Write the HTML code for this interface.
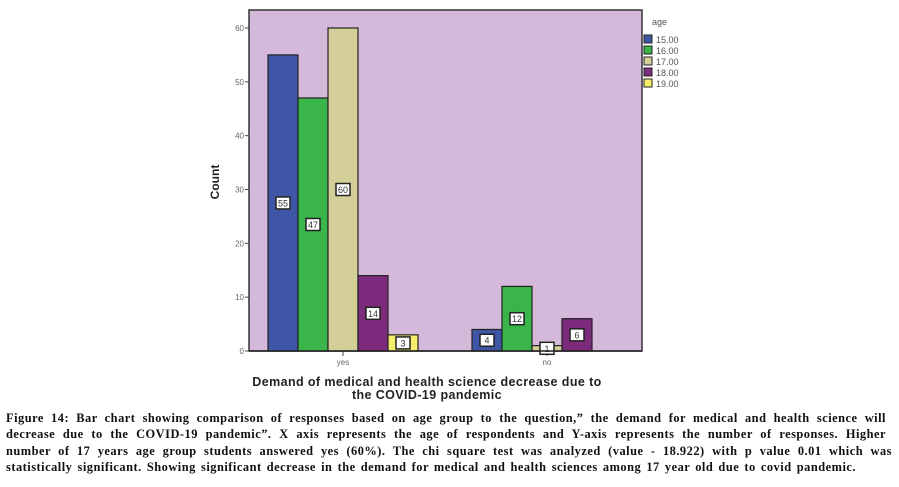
<!DOCTYPE html>
<html><head><meta charset="utf-8"><style>
body{margin:0;background:#fff;width:899px;height:487px;overflow:hidden;position:relative;font-family:"Liberation Sans",sans-serif}
.cap{position:absolute;left:6px;top:410px;font:bold 12.4px/16.3px "Liberation Serif",serif;color:#111;letter-spacing:0.5px}
.cap span{display:block;white-space:nowrap;text-align:justify;text-align-last:justify}
</style></head><body>
<svg width="899" height="405" style="position:absolute;left:0;top:0" id="c"></svg>
<div class="cap">
<span style="width:880px">Figure 14: Bar chart showing comparison of responses based on age group to the question,” the demand for medical and health science will</span>
<span style="width:880px">decrease due to the COVID-19 pandemic”. X axis represents the age of respondents and Y-axis represents the number of responses. Higher</span>
<span style="width:886px">number of 17 years age group students answered yes (60%). The chi square test was analyzed (value - 18.922) with p value 0.01 which was</span>
<span style="width:850px">statistically significant. Showing significant decrease in the demand for medical and health sciences among 17 year old due to covid pandemic.</span>
</div>
<script>
const categories=["yes","no"];
const series=["15.00","16.00","17.00","18.00","19.00"];
const colors=["#3f56a6","#3ab54a","#d4cf98","#7c2a7c","#f5ee6a"];
const values=[[55,4],[47,12],[60,1],[14,6],[3,0]];
const yTicks=[0,10,20,30,40,50,60];
const NS="http://www.w3.org/2000/svg",s=document.getElementById('c');
function mk(t,a,txt){const e=document.createElementNS(NS,t);for(const k in a)e.setAttribute(k,a[k]);if(txt!==undefined)e.textContent=txt;s.appendChild(e);return e;}
const L=249,R=642,T=10,B=351,y0=351,y60=28;
const y=v=>y0-(y0-y60)*v/60;
const groupC=[343,547],bw=30;
const x=(ci,si)=>groupC[ci]-bw*series.length/2+si*bw;
let e=mk('rect',{x:L,y:T,width:R-L,height:B-T,fill:"#d5b9da",stroke:"#333","stroke-width":1.5});

yTicks.forEach(v=>{
 let t=mk('line',{x1:L-4,x2:L,y1:y(v),y2:y(v),stroke:"#444"});
 
 let l=mk('text',{x:L-5,y:y(v)+3,"text-anchor":"end","font-size":8,fill:"#666"},v);
 
});
categories.forEach((c,ci)=>{
 let t=mk('line',{x1:groupC[ci],x2:groupC[ci],y1:B,y2:B+5,stroke:"#444"});
 
 let l=mk('text',{x:groupC[ci],y:B+14,"text-anchor":"middle","font-size":8,fill:"#666"},c);
 
 series.forEach((sn,si)=>{
  const v=values[si][ci];if(!v)return;
  let r=mk('rect',{x:x(ci,si),y:y(v),width:bw,height:y(0)-y(v),fill:colors[si],stroke:"#222","stroke-width":1.2});
  
  const cy=(y(v)+y(0))/2,cx=x(ci,si)+bw/2;
  let b=mk('rect',{x:cx-7,y:cy-6,width:14,height:12,fill:"#fff",stroke:"#222","stroke-width":1.5});
  
  let vt=mk('text',{x:cx,y:cy+3.5,"text-anchor":"middle","font-size":9,fill:"#333"},v);
  
 });
});
let ax=mk('line',{x1:L,x2:R,y1:B,y2:B,stroke:"#222","stroke-width":1.5});

let yt=mk('text',{x:219,y:182,transform:"rotate(-90 219 182)","text-anchor":"middle","font-size":12,"font-weight":"bold",fill:"#222"},"Count");

let x1=mk('text',{x:427,y:386,"text-anchor":"middle","font-size":12.5,"font-weight":"bold","letter-spacing":0.4,fill:"#222"},"Demand of medical and health science decrease due to");

let x2=mk('text',{x:427,y:399,"text-anchor":"middle","font-size":12.5,"font-weight":"bold","letter-spacing":0.4,fill:"#222"},"the COVID-19 pandemic");

let lt=mk('text',{x:652,y:25,"font-size":9,fill:"#555"},"age");

series.forEach((sn,si)=>{
 const ly=35+si*11;
 let r=mk('rect',{x:644,y:ly,width:8,height:8,fill:colors[si],stroke:"#222"});
 
 let t=mk('text',{x:656,y:ly+8,"font-size":9,fill:"#555"},sn);
 
});
</script>
</body></html>
